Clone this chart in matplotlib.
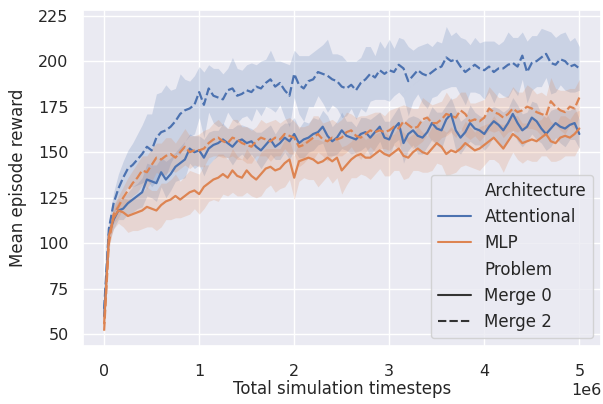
import numpy as np
import matplotlib
matplotlib.use('Agg')
import matplotlib.pyplot as plt
from matplotlib.lines import Line2D
import seaborn as sns

# mean episode reward, one value every 50k timesteps (0 .. 5e6)
step = 50000

att_merge0 = [60, 105, 113, 118, 119, 122, 124, 126, 128, 135,
              134, 133, 139, 135, 138, 142, 144, 146, 152, 150,
              151, 147, 152, 154, 155, 157, 155, 153, 156, 157,
              155, 156, 153, 151, 154, 157, 153, 155, 158, 156,
              160, 155, 157, 158, 160, 161, 164, 159, 156, 158,
              162, 159, 158, 157, 160, 161, 158, 161, 164, 158,
              157, 163, 166, 155, 160, 162, 159, 158, 161, 166,
              163, 162, 168, 171, 162, 158, 161, 166, 163, 162,
              160, 164, 167, 165, 162, 166, 171, 166, 162, 164,
              169, 167, 163, 160, 163, 166, 164, 163, 165, 166,
              160]
att_merge2 = [64, 108, 122, 130, 136, 141, 143, 146, 149, 153,
              151, 158, 161, 162, 164, 167, 171, 173, 174, 176,
              183, 176, 185, 181, 180, 179, 184, 185, 181, 182,
              184, 183, 186, 185, 188, 190, 186, 188, 184, 181,
              193, 187, 185, 189, 190, 194, 193, 192, 190, 189,
              186, 185, 187, 184, 188, 190, 193, 191, 195, 193,
              195, 194, 198, 196, 189, 192, 195, 193, 192, 194,
              196, 197, 202, 200, 201, 197, 194, 196, 198, 196,
              195, 197, 194, 196, 196, 198, 199, 197, 203, 194,
              199, 200, 202, 204, 199, 198, 201, 200, 197, 198,
              196]
mlp_merge0 = [56, 104, 114, 118, 117, 115, 116, 117, 118, 120,
              119, 118, 121, 123, 124, 126, 124, 126, 128, 129,
              127, 131, 133, 135, 136, 138, 136, 140, 137, 136,
              140, 137, 135, 138, 141, 142, 140, 141, 144, 146,
              136, 145, 146, 147, 146, 144, 145, 147, 145, 147,
              140, 143, 146, 148, 149, 147, 147, 149, 151, 149,
              148, 150, 152, 148, 147, 150, 152, 150, 149, 152,
              155, 153, 149, 151, 150, 152, 155, 153, 151, 152,
              154, 156, 158, 155, 152, 156, 160, 158, 155, 156,
              157, 156, 158, 160, 156, 155, 158, 159, 158, 160,
              163]
mlp_merge2 = [52, 100, 116, 120, 125, 129, 133, 136, 140, 139,
              143, 147, 146, 148, 149, 147, 150, 153, 150, 151,
              151, 152, 155, 157, 158, 156, 155, 158, 157, 155,
              154, 153, 156, 158, 157, 156, 158, 157, 160, 159,
              158, 153, 154, 156, 158, 160, 157, 156, 158, 157,
              158, 161, 162, 159, 158, 160, 162, 161, 162, 161,
              162, 164, 163, 167, 165, 163, 164, 168, 169, 166,
              166, 168, 171, 170, 169, 173, 171, 167, 168, 167,
              169, 174, 172, 171, 169, 171, 174, 172, 173, 175,
              174, 172, 171, 170, 178, 175, 173, 172, 175, 174,
              180]

# half width of the shaded band
att_merge0_sd = [3, 4, 5, 5, 6, 6, 7, 7, 8, 9,
                 9, 10, 8, 10, 9, 8, 9, 10, 8, 9,
                 8, 10, 9, 8, 7, 9, 8, 10, 9, 8,
                 9, 7, 8, 10, 9, 8, 7, 9, 8, 10,
                 9, 8, 10, 8, 9, 7, 9, 11, 8, 9,
                 10, 8, 9, 7, 9, 8, 10, 9, 8, 9,
                 10, 8, 9, 11, 9, 8, 10, 9, 8, 9,
                 9, 10, 8, 9, 11, 9, 8, 10, 9, 8,
                 9, 10, 8, 9, 10, 8, 9, 10, 9, 8,
                 9, 10, 8, 9, 10, 8, 9, 10, 8, 9,
                 8]
att_merge2_sd = [3, 4, 6, 8, 9, 10, 12, 14, 16, 18,
                 20, 24, 22, 25, 20, 18, 22, 17, 15, 16,
                 14, 18, 13, 15, 16, 14, 12, 17, 15, 13,
                 14, 16, 12, 15, 13, 16, 14, 12, 15, 17,
                 13, 16, 18, 14, 15, 13, 16, 20, 14, 15,
                 17, 15, 13, 16, 14, 18, 15, 12, 16, 14,
                 17, 13, 15, 16, 19, 14, 13, 16, 18, 14,
                 15, 13, 17, 14, 15, 16, 18, 13, 15, 14,
                 16, 14, 17, 13, 15, 18, 14, 16, 13, 17,
                 15, 14, 16, 13, 17, 15, 14, 16, 14, 15,
                 12]
mlp_merge0_sd = [3, 5, 6, 7, 8, 9, 9, 10, 10, 11,
                 10, 11, 12, 10, 11, 12, 10, 11, 12, 10,
                 11, 12, 10, 11, 13, 11, 10, 12, 11, 10,
                 12, 11, 10, 12, 11, 10, 12, 11, 13, 11,
                 12, 11, 10, 12, 11, 13, 11, 10, 12, 11,
                 13, 11, 10, 12, 11, 10, 12, 11, 10, 12,
                 11, 10, 12, 13, 11, 10, 12, 11, 10, 12,
                 11, 10, 12, 13, 11, 10, 12, 11, 10, 12,
                 11, 10, 12, 11, 13, 11, 10, 12, 11, 10,
                 12, 11, 10, 12, 11, 10, 12, 11, 10, 12,
                 10]
mlp_merge2_sd = [3, 4, 5, 6, 6, 7, 7, 8, 8, 9,
                 9, 8, 9, 10, 9, 8, 9, 10, 9, 8,
                 9, 10, 8, 9, 10, 9, 8, 10, 11, 9,
                 10, 9, 8, 10, 9, 11, 10, 9, 8, 10,
                 9, 11, 10, 9, 12, 10, 9, 11, 10, 9,
                 10, 11, 9, 10, 12, 10, 9, 11, 10, 9,
                 11, 10, 12, 9, 10, 11, 10, 12, 9, 10,
                 11, 10, 12, 9, 11, 10, 12, 10, 9, 11,
                 10, 12, 11, 9, 11, 10, 12, 11, 10, 12,
                 11, 10, 12, 11, 13, 10, 11, 12, 10, 11,
                 10]

sns.set_theme(style='darkgrid')
blue, orange = sns.color_palette('deep')[:2]

fig = plt.figure(figsize=(6.03, 4.04), dpi=100)
ax = fig.add_axes([0.138, 0.143, 0.859, 0.832])

series = [
    (att_merge0, att_merge0_sd, blue, '-'),
    (att_merge2, att_merge2_sd, blue, '--'),
    (mlp_merge0, mlp_merge0_sd, orange, '-'),
    (mlp_merge2, mlp_merge2_sd, orange, '--'),
]
for mean, sd, col, ls in series:
    mean = np.array(mean, dtype=float)
    sd = np.array(sd, dtype=float)
    x = np.arange(len(mean)) * step
    ax.fill_between(x, mean - sd, mean + sd, color=col, alpha=0.2, linewidth=0)
    line, = ax.plot(x, mean, color=col, linewidth=1.6, linestyle=ls)
    if ls == '--':
        line.set_dashes((4, 1.5))

ax.set_xlim(-0.22e6, 5.23e6)
ax.set_ylim(43.5, 228)
ax.set_yticks([50, 75, 100, 125, 150, 175, 200, 225])
ax.tick_params(labelsize=11.5)
ax.tick_params(axis='x', pad=6.5)
ax.tick_params(axis='y', pad=4.5)
ax.xaxis.get_offset_text().set_fontsize(11.5)
ax.set_xlabel('Total simulation timesteps', fontsize=12, labelpad=1)
ax.set_ylabel('Mean episode reward', fontsize=12, labelpad=8)

handles = [
    Line2D([], [], linestyle='', label='Architecture'),
    Line2D([], [], color=blue, lw=1.5, label='Attentional'),
    Line2D([], [], color=orange, lw=1.5, label='MLP'),
    Line2D([], [], linestyle='', label='Problem'),
    Line2D([], [], color='#333333', lw=1.5, label='Merge 0'),
    Line2D([], [], color='#333333', lw=1.5, dashes=(4, 1.5), label='Merge 2'),
]
ax.legend(handles=handles, loc='lower right', fontsize=12)

fig.savefig('out.png', dpi=100)
